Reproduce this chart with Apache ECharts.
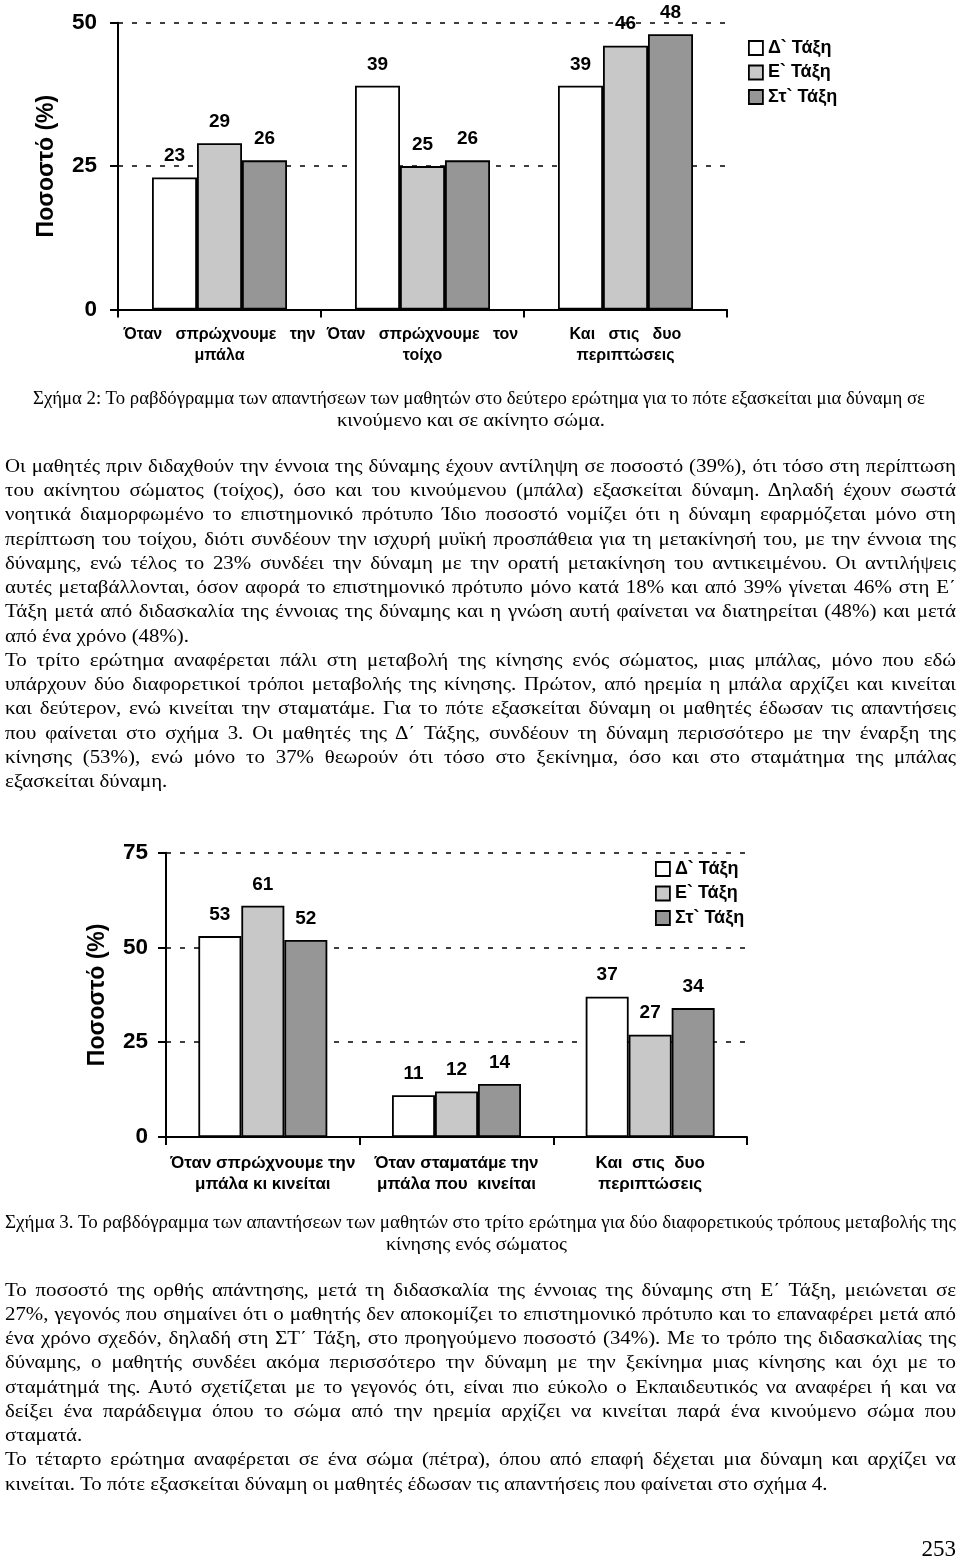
<!DOCTYPE html>
<html><head><meta charset="utf-8">
<script src="https://cdn.jsdelivr.net/npm/echarts@6/dist/echarts.min.js"></script>
<style>
html,body{margin:0;padding:0;background:#fff;}
#page{position:relative;width:960px;height:1564px;overflow:hidden;background:#fff;}
#chart{position:absolute;left:0;top:0;width:960px;height:1564px;}
.ln{position:absolute;white-space:nowrap;font-family:"Liberation Serif","Times New Roman",serif;color:#000;transform-origin:0 50%;}
.b{font-size:19.5px;line-height:24px;height:24px;}
.c{font-size:18px;line-height:22px;height:22px;}
.pn{position:absolute;right:4px;top:1535px;font-family:"Liberation Serif","Times New Roman",serif;font-size:23px;line-height:28px;color:#000;}
</style></head><body>
<div id="page">
<div id="chart"></div>

<div class="ln c cap" data-cx="479" data-w="892" data-y="398"><span>Σχήμα 2: Το ραβδόγραμμα των απαντήσεων των μαθητών στο δεύτερο ερώτημα για το πότε εξασκείται μια δύναμη σε</span></div>
<div class="ln c cap" data-cx="471" data-w="268" data-y="420"><span>κινούμενο και σε ακίνητο σώμα.</span></div>

<div class="ln b j" data-y="466"><span>Οι μαθητές πριν διδαχθούν την έννοια της δύναμης έχουν αντίληψη σε ποσοστό (39%), ότι τόσο στη περίπτωση</span></div>
<div class="ln b j" data-y="490"><span>του ακίνητου σώματος (τοίχος), όσο και του κινούμενου (μπάλα) εξασκείται δύναμη. Δηλαδή έχουν σωστά</span></div>
<div class="ln b j" data-y="514"><span>νοητικά διαμορφωμένο το επιστημονικό πρότυπο Ίδιο ποσοστό νομίζει ότι η δύναμη εφαρμόζεται μόνο στη</span></div>
<div class="ln b j" data-y="539"><span>περίπτωση του τοίχου, διότι συνδέουν την ισχυρή μυϊκή προσπάθεια για τη μετακίνησή του, με την έννοια της</span></div>
<div class="ln b j" data-y="563"><span>δύναμης, ενώ τέλος το 23% συνδέει την δύναμη με την ορατή μετακίνηση του αντικειμένου. Οι αντιλήψεις</span></div>
<div class="ln b j" data-y="587"><span>αυτές μεταβάλλονται, όσον αφορά το επιστημονικό πρότυπο μόνο κατά 18% και από 39% γίνεται 46% στη Ε΄</span></div>
<div class="ln b j" data-y="611"><span>Τάξη μετά από διδασκαλία της έννοιας της δύναμης και η γνώση αυτή φαίνεται να διατηρείται (48%) και μετά</span></div>
<div class="ln b l" data-y="636" data-w="181"><span>από ένα χρόνο (48%).</span></div>
<div class="ln b j" data-y="660"><span>Το τρίτο ερώτημα αναφέρεται πάλι στη μεταβολή της κίνησης ενός σώματος, μιας μπάλας, μόνο που εδώ</span></div>
<div class="ln b j" data-y="684"><span>υπάρχουν δύο διαφορετικοί τρόποι μεταβολής της κίνησης. Πρώτον, από ηρεμία η μπάλα αρχίζει και κινείται</span></div>
<div class="ln b j" data-y="708"><span>και δεύτερον, ενώ κινείται την σταματάμε. Για το πότε εξασκείται δύναμη οι μαθητές έδωσαν τις απαντήσεις</span></div>
<div class="ln b j" data-y="733"><span>που φαίνεται στο σχήμα 3. Οι μαθητές της Δ΄ Τάξης, συνδέουν τη δύναμη περισσότερο με την έναρξη της</span></div>
<div class="ln b j" data-y="757"><span>κίνησης (53%), ενώ μόνο το 37% θεωρούν ότι τόσο στο ξεκίνημα, όσο και στο σταμάτημα της μπάλας</span></div>
<div class="ln b l" data-y="781" data-w="162"><span>εξασκείται δύναμη.</span></div>

<div class="ln c cap" data-cx="480" data-w="951" data-y="1222"><span>Σχήμα 3. Το ραβδόγραμμα των απαντήσεων των μαθητών στο τρίτο ερώτημα για δύο διαφορετικούς τρόπους μεταβολής της</span></div>
<div class="ln c cap" data-cx="476" data-w="181" data-y="1244"><span>κίνησης ενός σώματος</span></div>

<div class="ln b j" data-y="1290"><span>Το ποσοστό της ορθής απάντησης, μετά τη διδασκαλία της έννοιας της δύναμης στη Ε΄ Τάξη, μειώνεται σε</span></div>
<div class="ln b j" data-y="1314"><span>27%, γεγονός που σημαίνει ότι ο μαθητής δεν αποκομίζει το επιστημονικό πρότυπο και το επαναφέρει μετά από</span></div>
<div class="ln b j" data-y="1338"><span>ένα χρόνο σχεδόν, δηλαδή στη ΣΤ΄ Τάξη, στο προηγούμενο ποσοστό (34%). Με το τρόπο της διδασκαλίας της</span></div>
<div class="ln b j" data-y="1362"><span>δύναμης, ο μαθητής συνδέει ακόμα περισσότερο την δύναμη με την ξεκίνημα μιας κίνησης και όχι με το</span></div>
<div class="ln b j" data-y="1387"><span>σταμάτημά της. Αυτό σχετίζεται με το γεγονός ότι, είναι πιο εύκολο ο Εκπαιδευτικός να αναφέρει ή και να</span></div>
<div class="ln b j" data-y="1411"><span>δείξει ένα παράδειγμα όπου το σώμα από την ηρεμία αρχίζει να κινείται παρά ένα κινούμενο σώμα που</span></div>
<div class="ln b l" data-y="1435" data-w="75"><span>σταματά.</span></div>
<div class="ln b j" data-y="1459"><span>Το τέταρτο ερώτημα αναφέρεται σε ένα σώμα (πέτρα), όπου από επαφή δέχεται μια δύναμη και αρχίζει να</span></div>
<div class="ln b l" data-y="1484" data-w="828"><span>κινείται. Το πότε εξασκείται δύναμη οι μαθητές έδωσαν τις απαντήσεις που φαίνεται στο σχήμα 4.</span></div>

<div class="pn">253</div>
</div>
<script>
// ---------- data ----------
const seriesNames = ['Δ` Τάξη', 'Ε` Τάξη', 'Στ` Τάξη'];
const fig2Categories = ['Όταν   σπρώχνουμε   την\nμπάλα', 'Όταν   σπρώχνουμε   τον\nτοίχο', 'Και   στις   δυο\nπεριπτώσεις'];
const fig2Delta = [23, 39, 39];
const fig2Epsilon = [29, 25, 46];
const fig2Sigmatau = [26, 26, 48];
const fig2YTicks = [0, 25, 50];

const fig3Categories = ['Όταν σπρώχνουμε την\nμπάλα κι κινείται', 'Όταν σταματάμε την\nμπάλα που  κινείται', 'Και  στις  δυο\nπεριπτώσεις'];
const fig3Delta = [53, 11, 37];
const fig3Epsilon = [61, 12, 27];
const fig3Sigmatau = [52, 14, 34];
const fig3YTicks = [0, 25, 50, 75];

const barColors = ['#ffffff', '#c8c8c8', '#969696'];
const yAxisName = 'Ποσοστό (%)';

// ---------- text fitting ----------
(function fitText(){
  const BL = 5, BW = 951;
  const lines = Array.from(document.querySelectorAll('.ln'));
  lines.forEach(el => {
    const h = parseFloat(getComputedStyle(el).lineHeight);
    el.style.top = (parseFloat(el.dataset.y) - h / 2) + 'px';
    el.style.left = BL + 'px';
  });
  const nat = new Map();
  lines.forEach(el => nat.set(el, el.firstElementChild.getBoundingClientRect().width));
  let tw = 0, nw = 0;
  lines.filter(el => el.classList.contains('l') && el.dataset.w).forEach(el => { tw += +el.dataset.w; nw += nat.get(el); });
  const s = nw ? tw / nw : 1;
  lines.forEach(el => {
    const n = nat.get(el);
    if (el.classList.contains('cap')) {
      const w = +el.dataset.w, k = w / n;
      el.style.left = (+el.dataset.cx - w / 2) + 'px';
      el.style.transform = 'scaleX(' + k + ')';
    } else if (el.classList.contains('j')) {
      let k = s;
      if (n * k > BW) k = BW / n;
      el.style.width = (BW / k) + 'px';
      el.style.textAlign = 'justify';
      el.style.textAlignLast = 'justify';
      el.style.transform = 'scaleX(' + k + ')';
    } else {
      el.style.transform = 'scaleX(' + s + ')';
    }
  });
})();

// ---------- chart ----------
const chart = echarts.init(document.getElementById('chart'), null, {renderer: 'canvas'});
const FONT = '"Liberation Sans", Arial, sans-serif';

function xAxisDef(gi, cats, margin, fw, fs) {
  return {
    type: 'category', gridIndex: gi, data: cats,
    axisLine: {show: true, lineStyle: {color: '#000', width: 2}},
    axisTick: {show: true, length: 8, lineStyle: {color: '#000', width: 2}},
    axisLabel: {color: '#000', fontFamily: FONT, fontSize: fs, fontWeight: fw, lineHeight: 21, margin: margin, interval: 0}
  };
}
function yAxisDef(gi, ticks, margin, nameGap) {
  return {
    type: 'value', gridIndex: gi, min: ticks[0], max: ticks[ticks.length - 1], interval: ticks[1] - ticks[0],
    name: yAxisName, nameLocation: 'middle', nameGap: nameGap, nameRotate: 90,
    nameTextStyle: {color: '#000', fontFamily: FONT, fontSize: 23, fontWeight: 'bold'},
    axisLine: {show: true, lineStyle: {color: '#000', width: 2}},
    axisTick: {show: true, length: 8, lineStyle: {color: '#000', width: 2}},
    axisLabel: {color: '#000', fontFamily: FONT, fontSize: 22.5, fontWeight: 'bold', margin: margin},
    splitLine: {show: true, lineStyle: {color: '#000', width: 1.5, type: [5, 9]}}
  };
}
function barSeries(name, data, idx, color, catGap) {
  return {
    type: 'bar', name: name, data: data, xAxisIndex: idx, yAxisIndex: idx,
    barGap: '0%', barCategoryGap: catGap,
    itemStyle: {color: color, borderColor: '#000', borderWidth: 1.8},
    label: {show: true, position: 'top', distance: 12, color: '#000', fontFamily: FONT, fontSize: 19, fontWeight: 'bold'},
    emphasis: {disabled: true}
  };
}
function legendDef(left, top) {
  return {
    orient: 'vertical', left: left, top: top, padding: 0, data: seriesNames,
    icon: 'rect', itemWidth: 14, itemHeight: 14, itemGap: 6.5,
    itemStyle: {borderColor: '#000', borderWidth: 1.8},
    textStyle: {color: '#000', fontFamily: FONT, fontSize: 18, fontWeight: 'bold'},
    selectedMode: false
  };
}

const option = {
  animation: false,
  backgroundColor: 'transparent',
  grid: [
    {left: 118, top: 22.7, width: 609, height: 286.8},
    {left: 166, top: 852.7, width: 581, height: 284.3}
  ],
  legend: [legendDef(748, 39), legendDef(655, 860)],
  xAxis: [xAxisDef(0, fig2Categories, 15, 'bold', 16), xAxisDef(1, fig3Categories, 16, 'bold', 17)],
  yAxis: [yAxisDef(0, fig2YTicks, 21, 59.5), yAxisDef(1, fig3YTicks, 18, 56.5)],
  series: [
    barSeries(seriesNames[0], fig2Delta, 0, barColors[0], '33.5%'),
    barSeries(seriesNames[1], fig2Epsilon, 0, barColors[1], '33.5%'),
    barSeries(seriesNames[2], fig2Sigmatau, 0, barColors[2], '33.5%'),
    barSeries(seriesNames[0], fig3Delta, 1, barColors[0], '33.4%'),
    barSeries(seriesNames[1], fig3Epsilon, 1, barColors[1], '33.4%'),
    barSeries(seriesNames[2], fig3Sigmatau, 1, barColors[2], '33.4%')
  ]
};
chart.setOption(option);
</script>
</body></html>
